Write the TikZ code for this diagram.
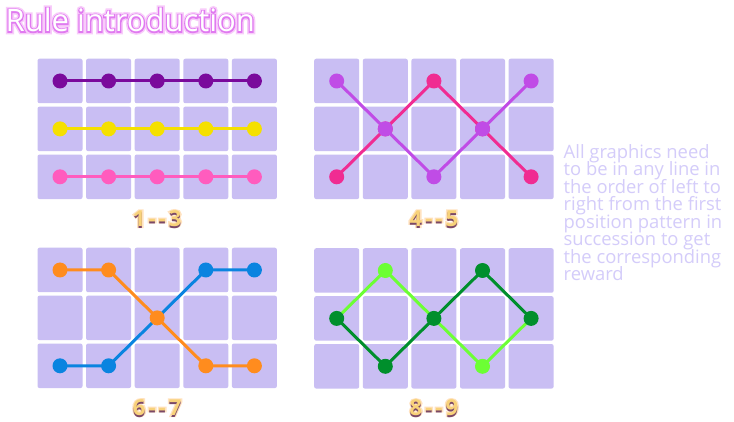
\documentclass[tikz,border=0pt]{standalone}
\usepackage{fontspec}
\setmainfont{Open Sans}
\usetikzlibrary{calc}
\definecolor{cellfill}{HTML}{C9BEF3}
\definecolor{cPurple}{HTML}{7A0A9C}
\definecolor{cYellow}{HTML}{F5E000}
\definecolor{cPink}{HTML}{FF5CBE}
\definecolor{cViolet}{HTML}{C04CE6}
\definecolor{cMagenta}{HTML}{F02C92}
\definecolor{cOrange}{HTML}{FF8C1E}
\definecolor{cBlue}{HTML}{0A84E0}
\definecolor{cLime}{HTML}{6CFF34}
\definecolor{cGreen}{HTML}{008F2C}
\definecolor{noteText}{HTML}{D4CCFA}
\definecolor{titleEdge}{HTML}{E07AF0}
\definecolor{titleGlow}{HTML}{F8CCFA}
\definecolor{goldText}{HTML}{F8D27A}
\definecolor{goldGlow}{HTML}{FFE2C0}
\definecolor{goldShadow}{HTML}{7A4868}
\newfontfamily\titleglowfont[FakeBold=18]{Open Sans}
\newfontfamily\titleedgefont[FakeBold=8]{Open Sans}
\newfontfamily\labglowfont[FakeBold=14,LetterSpace=14]{Open Sans Bold}
\newfontfamily\labfont[LetterSpace=14]{Open Sans Bold}
\tikzset{
  seg/.style={line width=3pt},
  dot/.style={circle, inner sep=0pt, minimum size=15pt, draw=none},
  cellbox/.style={fill=cellfill, rounded corners=2pt},
  ttl/.style={anchor=base west, inner sep=0pt},
  lab/.style={anchor=base, inner sep=0pt},
  note/.style={anchor=base west, inner sep=0pt, text=noteText, font=\fontsize{18.4}{18}\selectfont}
}
\newcommand{\goldlabel}[4]{%
  \node[lab, text=goldGlow, font=\labglowfont\fontsize{22}{24}\selectfont] (#1g) at (#2,#3) {#4};
  \node[lab, text=goldShadow, font=\labfont\fontsize{22}{24}\selectfont] (#1s) at (#2,#3+1.6) {#4};
  \node[lab, text=goldText, font=\labfont\fontsize{22}{24}\selectfont] (#1) at (#2,#3) {#4};
}
\begin{document}
\begin{tikzpicture}[x=1pt,y=-1pt]
\useasboundingbox (0,0) rectangle (734,422);
\fill[white] (0,0) rectangle (734,422);
% grids of cells
\foreach \g/\ox/\oy in {1/60/81, 2/336.7/81, 3/60/270, 4/336.7/270.5} {
  \foreach \i in {0,...,4} {
    \foreach \j in {0,1,2} {
      \coordinate (g\g-\i-\j) at ({\ox+\i*48.6},{\oy+\j*47.9});
      \fill[cellbox] ($(g\g-\i-\j)+(-22.5,-22.25)$) rectangle ++(45,44.5);
    }
  }
}
% grid 1
\draw[seg,cPurple] (g1-0-0) -- (g1-1-0) -- (g1-2-0) -- (g1-3-0) -- (g1-4-0);
\foreach \i in {0,...,4} \node[dot,fill=cPurple] (pu\i) at (g1-\i-0) {};
\draw[seg,cYellow] (g1-0-1) -- (g1-1-1) -- (g1-2-1) -- (g1-3-1) -- (g1-4-1);
\foreach \i in {0,...,4} \node[dot,fill=cYellow] (ye\i) at (g1-\i-1) {};
\draw[seg,cPink] (g1-0-2) -- (g1-1-2) -- (g1-2-2) -- (g1-3-2) -- (g1-4-2);
\foreach \i in {0,...,4} \node[dot,fill=cPink] (pk\i) at (g1-\i-2) {};
% grid 2
\draw[seg,cMagenta] (g2-0-2) -- (g2-1-1) -- (g2-2-0) -- (g2-3-1) -- (g2-4-2);
\foreach \i/\j in {0/2,1/1,2/0,3/1,4/2} \node[dot,fill=cMagenta] (mg\i) at (g2-\i-\j) {};
\draw[seg,cViolet] (g2-0-0) -- (g2-1-1) -- (g2-2-2) -- (g2-3-1) -- (g2-4-0);
\foreach \i/\j in {0/0,1/1,2/2,3/1,4/0} \node[dot,fill=cViolet] (vi\i) at (g2-\i-\j) {};
% grid 3
\draw[seg,cBlue] (g3-0-2) -- (g3-1-2) -- (g3-3-0) -- (g3-4-0);
\foreach \i/\j in {0/2,1/2,3/0,4/0} \node[dot,fill=cBlue] (bl\i) at (g3-\i-\j) {};
\draw[seg,cOrange] (g3-0-0) -- (g3-1-0) -- (g3-2-1) -- (g3-3-2) -- (g3-4-2);
\foreach \i/\j in {0/0,1/0,2/1,3/2,4/2} \node[dot,fill=cOrange] (or\i) at (g3-\i-\j) {};
% grid 4
\draw[seg,cLime] (g4-0-1) -- (g4-1-0) -- (g4-2-1) -- (g4-3-2) -- (g4-4-1);
\foreach \i/\j in {1/0,3/2} \node[dot,fill=cLime] (li\i) at (g4-\i-\j) {};
\draw[seg,cGreen] (g4-0-1) -- (g4-1-2) -- (g4-2-1) -- (g4-3-0) -- (g4-4-1);
\foreach \i/\j in {0/1,1/2,2/1,3/0,4/1} \node[dot,fill=cGreen] (gr\i) at (g4-\i-\j) {};
% labels
\goldlabel{la}{157.2}{226.5}{1-{}-3}
\goldlabel{lb}{433.9}{226.5}{4-{}-5}
\goldlabel{lc}{157.2}{415.5}{6-{}-7}
\goldlabel{ld}{433.9}{415.5}{8-{}-9}
% title
\node[ttl, text=titleGlow, font=\titleglowfont\fontsize{31}{34}\selectfont] (tglow) at (5.4,31.7) {Rule introduction};
\node[ttl, text=titleEdge, font=\titleedgefont\fontsize{31}{34}\selectfont] (tedge) at (5.4,31.7) {Rule introduction};
\node[ttl, text=white, font=\fontsize{31}{34}\selectfont] (title) at (5.4,31.7) {Rule introduction};
% note text
\node[note] (n1) at (563.5,158.5) {All graphics need};
\node[note] (n2) at (563.5,176.0) {to be in any line in};
\node[note] (n3) at (563.5,193.5) {the order of left to};
\node[note] (n4) at (563.5,211.0) {right from the first};
\node[note] (n5) at (563.5,228.5) {position pattern in};
\node[note] (n6) at (563.5,246.0) {succession to get};
\node[note] (n7) at (563.5,263.5) {the corresponding};
\node[note] (n8) at (563.5,281.0) {reward};
\end{tikzpicture}
\end{document}
